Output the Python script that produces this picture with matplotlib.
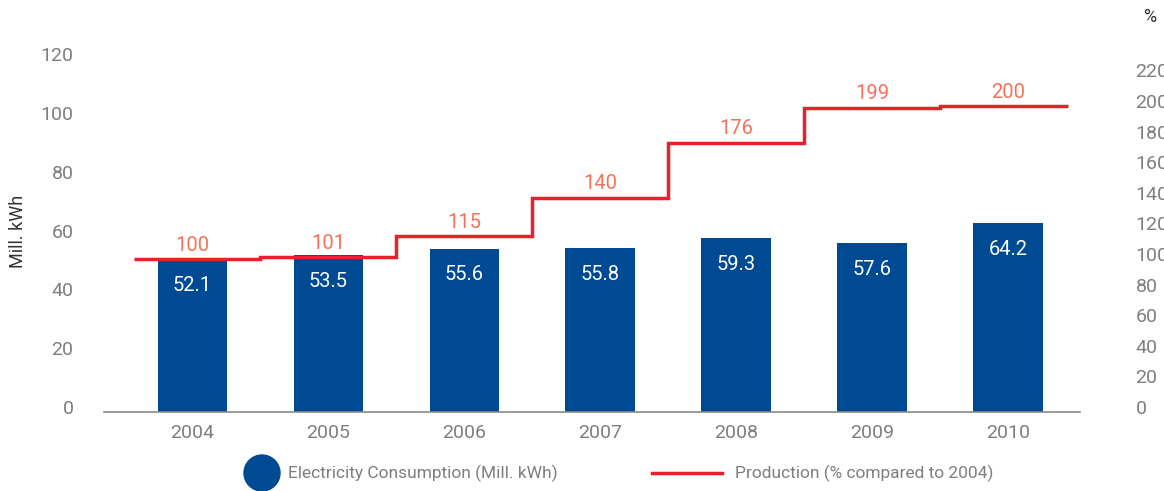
import matplotlib
matplotlib.use("Agg")
import numpy as np
from matplotlib import pyplot as plt
from matplotlib.lines import Line2D
from matplotlib.patches import Ellipse
from matplotlib.transforms import ScaledTranslation

years = ["2004", "2005", "2006", "2007", "2008", "2009", "2010"]
consumption = [52.1, 53.5, 55.6, 55.8, 59.3, 57.6, 64.2]
production = [100, 101, 115, 140, 176, 199, 200]
left_ticks = [0, 20, 40, 60, 80, 100, 120]
right_ticks = [0, 20, 40, 60, 80, 100, 120, 140, 160, 180, 200, 220]

blue = "#004a93"
red = "#e8202a"
salmon = "#f2735a"
grey = "#7f7f7f"

plt.rcParams['font.family'] = ['Roboto', 'DejaVu Sans']

W, H = 1164, 491
fig = plt.figure(figsize=(W/100, H/100), dpi=100)
ax = fig.add_axes([104/W, 1 - 412/H, (1080-104)/W, (412-50)/H])
ax2 = ax.twinx()

x = np.arange(len(years))
ax.bar(x, consumption, width=0.51, color=blue, zorder=2)
for xi, v in zip(x, consumption):
    ax.annotate(f"{v:.1f}", (xi, v), xytext=(0, -19), textcoords="offset points",
                ha="center", va="center", color="white", fontsize=14.5)

# step line, jumps halfway between the bars
edges = np.concatenate([[-0.43], x[:-1] + 0.5, [6.44]])
ax2.stairs(production, edges, color=red, linewidth=2.5, baseline=None, zorder=3)
for xi, v in zip(x, production):
    ax2.annotate(str(v), (xi, v), xytext=(0, 10), textcoords="offset points",
                 ha="center", va="center", color=salmon, fontsize=14.5)

ax.set_xlim(-0.65, 6.53)
ax.set_ylim(0, 362/2.94)
ax2.set_ylim(0, 362/1.53)
ax.set_xticks(x)
ax.set_xticklabels(years)
ax.set_yticks(left_ticks)
ax2.set_yticks(right_ticks)

for a in (ax, ax2):
    for s in a.spines.values():
        s.set_visible(False)
ax.spines['bottom'].set_visible(True)
ax.spines['bottom'].set_color("#8a8a8a")
ax.spines['bottom'].set_linewidth(1.2)

ax.tick_params(axis='x', length=0, pad=9, labelsize=14, labelcolor=grey)
ax.tick_params(axis='y', length=0, pad=22, labelsize=14, labelcolor=grey)
ax2.tick_params(axis='y', length=0, pad=40, labelsize=14, labelcolor=grey)
lift = ScaledTranslation(0, 5/100, fig.dpi_scale_trans)
for t in ax.get_yticklabels() + ax2.get_yticklabels():
    t.set_transform(t.get_transform() + lift)

ax.set_ylabel("Mill. kWh", fontsize=13, color="#333333")
ax.yaxis.set_label_coords((27 - 104)/976, 0.5)
fig.text(1150/W, 1 - 17/H, "%", fontsize=13, color="#333333", ha="center", va="center")

# legend row under the axis
ly = 1 - 473/H
fig.add_artist(Ellipse((262/W, ly), 36/W, 36/H, color=blue))
fig.text(288/W, ly, "Electricity Consumption (Mill. kWh)", fontsize=12.5, color=grey,
         ha="left", va="center")
fig.add_artist(Line2D([652/W, 722/W], [ly, ly], color=red, linewidth=2.5))
fig.text(735/W, ly, "Production (% compared to 2004)", fontsize=12.5, color=grey,
         ha="left", va="center")

fig.savefig("out.png", dpi=100)
